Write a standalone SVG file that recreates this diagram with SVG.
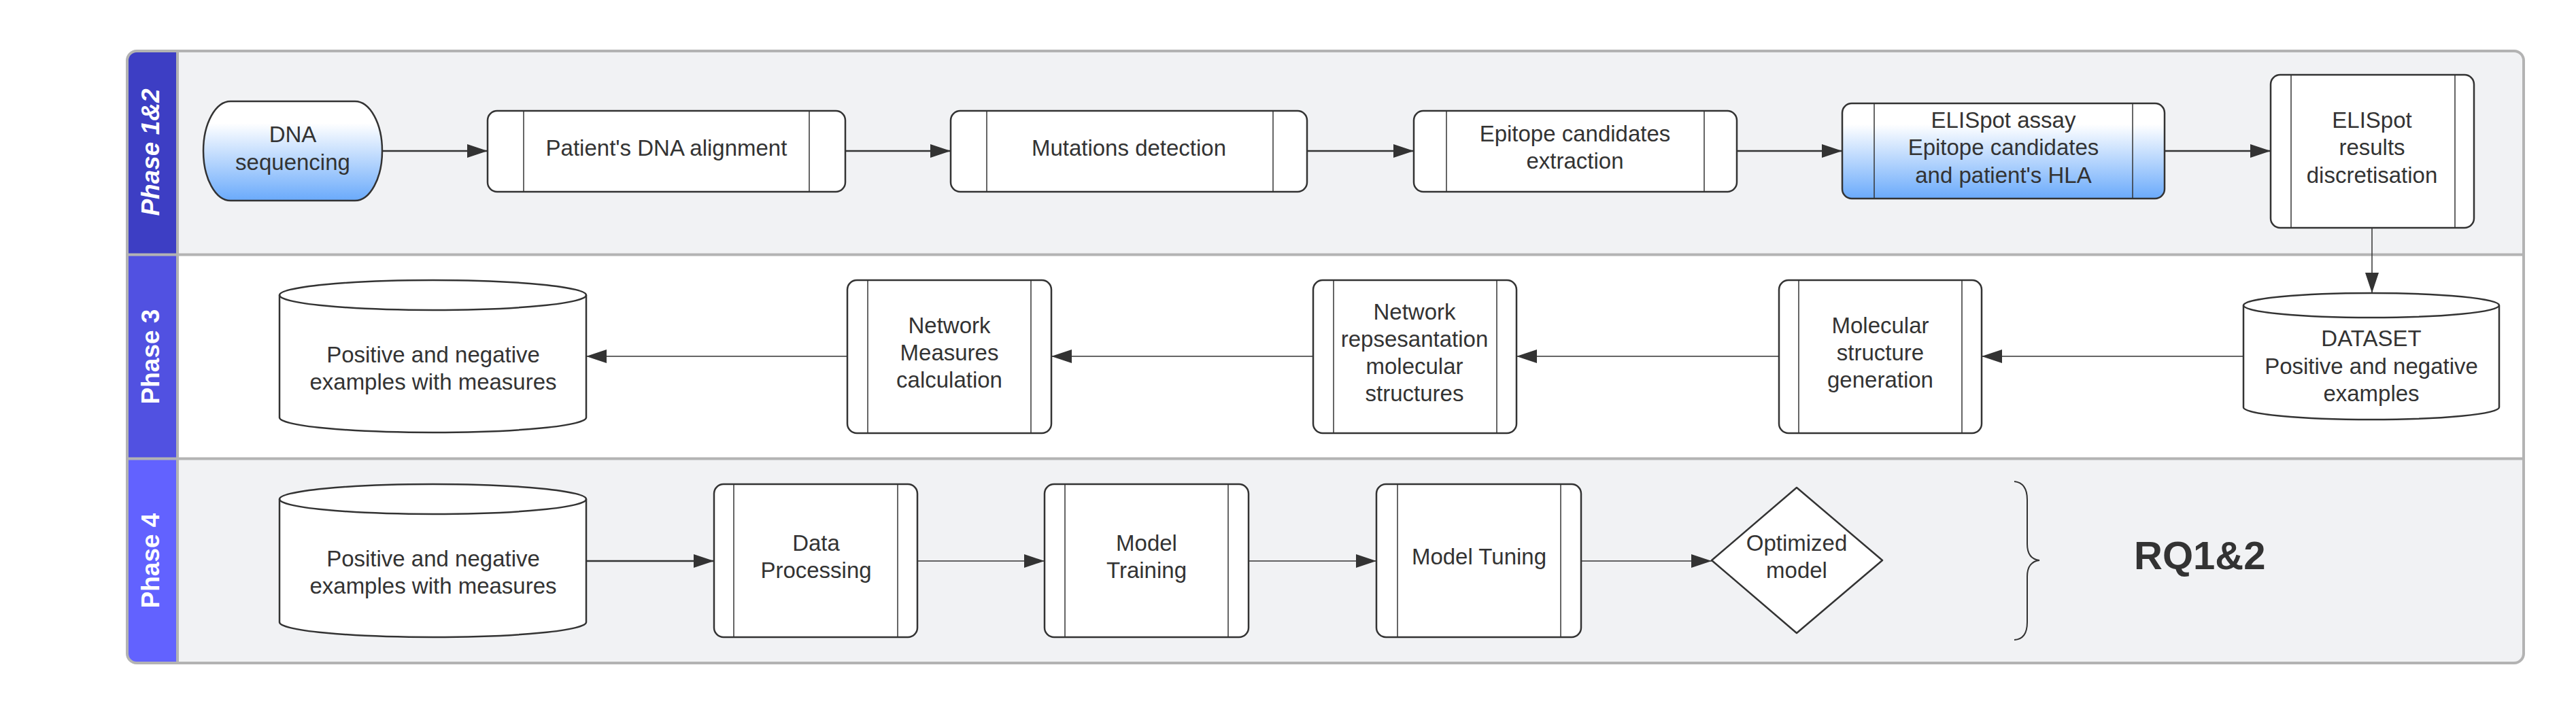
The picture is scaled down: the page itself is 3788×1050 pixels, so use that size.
<svg xmlns="http://www.w3.org/2000/svg" width="3788" height="1050" viewBox="0 0 3788 1050">
<style>
.t{font-family:"Liberation Sans",Arial,sans-serif;font-size:33px;fill:#333;text-anchor:middle}
.lane{font-family:"Liberation Sans",Arial,sans-serif;font-size:37px;font-weight:bold;fill:#fff;text-anchor:middle}
.n{fill:#fff;stroke:#333;stroke-width:2.5}
.in{stroke:#333;stroke-width:1.5;fill:none}
.c{stroke:#333;fill:none}
.thick{stroke-width:2.5}
.thin{stroke-width:1.5}
.grid{stroke:#b3b3b3;stroke-width:4;fill:none}
</style>
<defs>
<linearGradient id="blue" x1="0" y1="0" x2="0" y2="1">
<stop offset="0" stop-color="#ffffff"/>
<stop offset="0.22" stop-color="#ffffff"/>
<stop offset="1" stop-color="#6aaafb"/>
</linearGradient>
<marker id="arr" markerUnits="userSpaceOnUse" markerWidth="32" markerHeight="22" refX="30" refY="10" orient="auto">
<path d="M0,0 L30,10 L0,20 Z" fill="#333"/>
</marker>
<clipPath id="frame"><rect x="187" y="75" width="3524" height="900" rx="14"/></clipPath>
</defs>

<g id="background" clip-path="url(#frame)">
<rect x="187" y="75" width="3524" height="300" fill="#f1f2f4"/>
<rect x="187" y="375" width="3524" height="300" fill="#ffffff"/>
<rect x="187" y="675" width="3524" height="300" fill="#f1f2f4"/>
<rect x="187" y="75" width="74" height="300" fill="#3d3ec4"/>
<rect x="187" y="375" width="74" height="300" fill="#5151e1"/>
<rect x="187" y="675" width="74" height="300" fill="#6262ff"/>
</g>
<g id="frame-lines">
<rect class="grid" x="187" y="75" width="3524" height="900" rx="14"/>
<line class="grid" x1="187" y1="374.5" x2="3711" y2="374.5"/>
<line class="grid" x1="187" y1="674.5" x2="3711" y2="674.5"/>
<line class="grid" x1="261" y1="75" x2="261" y2="975"/>
</g>
<g id="lane-labels">
<text class="lane" font-style="italic" transform="translate(234,224) rotate(-90)">Phase 1&amp;2</text>
<text class="lane" transform="translate(234,524.5) rotate(-90)">Phase 3</text>
<text class="lane" transform="translate(234,824.5) rotate(-90)">Phase 4</text>
</g>

<g id="connectors">
<line class="c thick" x1="562" y1="222" x2="717" y2="222" marker-end="url(#arr)"/>
<line class="c thick" x1="1243" y1="222" x2="1398" y2="222" marker-end="url(#arr)"/>
<line class="c thick" x1="1922" y1="222" x2="2079" y2="222" marker-end="url(#arr)"/>
<line class="c thick" x1="2554" y1="222" x2="2709" y2="222" marker-end="url(#arr)"/>
<line class="c thick" x1="3183" y1="222" x2="3339" y2="222" marker-end="url(#arr)"/>
<line class="c thin" x1="3488" y1="335" x2="3488" y2="431" marker-end="url(#arr)"/>
<line class="c thin" x1="3299" y1="524" x2="2914" y2="524" marker-end="url(#arr)"/>
<line class="c thin" x1="2616" y1="524" x2="2230" y2="524" marker-end="url(#arr)"/>
<line class="c thin" x1="1931" y1="524" x2="1546" y2="524" marker-end="url(#arr)"/>
<line class="c thin" x1="1246" y1="524" x2="862" y2="524" marker-end="url(#arr)"/>
<line class="c thick" x1="862" y1="825" x2="1050" y2="825" marker-end="url(#arr)"/>
<line class="c thin" x1="1349" y1="825" x2="1536" y2="825" marker-end="url(#arr)"/>
<line class="c thin" x1="1836" y1="825" x2="2024" y2="825" marker-end="url(#arr)"/>
<line class="c thin" x1="2325" y1="825" x2="2517" y2="825" marker-end="url(#arr)"/>
</g>

<g id="dna-sequencing">
<rect x="299" y="149" width="263" height="146" rx="40" ry="73" fill="url(#blue)" stroke="#333" stroke-width="2.5"/>
<text class="t" x="430.5" y="209">DNA</text>
<text class="t" x="430.5" y="250">sequencing</text>
</g>
<g id="patients-dna-alignment">
<rect class="n" x="717" y="163" width="526" height="119" rx="14"/>
<line class="in" x1="770" y1="163" x2="770" y2="282"/>
<line class="in" x1="1190" y1="163" x2="1190" y2="282"/>
<text class="t" x="980" y="229">Patient's DNA alignment</text>
</g>
<g id="mutations-detection">
<rect class="n" x="1398" y="163" width="524" height="119" rx="14"/>
<line class="in" x1="1451" y1="163" x2="1451" y2="282"/>
<line class="in" x1="1872" y1="163" x2="1872" y2="282"/>
<text class="t" x="1660" y="229">Mutations detection</text>
</g>
<g id="epitope-extraction">
<rect class="n" x="2079" y="163" width="475" height="119" rx="14"/>
<line class="in" x1="2127" y1="163" x2="2127" y2="282"/>
<line class="in" x1="2506" y1="163" x2="2506" y2="282"/>
<text class="t" x="2316" y="208">Epitope candidates</text>
<text class="t" x="2316" y="248">extraction</text>
</g>
<g id="elispot-assay">
<rect x="2709" y="152" width="474" height="140" rx="14" fill="url(#blue)" stroke="#333" stroke-width="2.5"/>
<line class="in" x1="2756" y1="152" x2="2756" y2="292"/>
<line class="in" x1="3136" y1="152" x2="3136" y2="292"/>
<text class="t" x="2946" y="188">ELISpot assay</text>
<text class="t" x="2946" y="228">Epitope candidates</text>
<text class="t" x="2946" y="269">and patient's HLA</text>
</g>
<g id="elispot-results">
<rect class="n" x="3339" y="110" width="299" height="225" rx="14"/>
<line class="in" x1="3369" y1="110" x2="3369" y2="335"/>
<line class="in" x1="3610" y1="110" x2="3610" y2="335"/>
<text class="t" x="3488" y="188">ELISpot</text>
<text class="t" x="3488" y="228">results</text>
<text class="t" x="3488" y="269">discretisation</text>
</g>

<g id="dataset">
<path class="n" d="M3299,449 A188,18 0 0 1 3675,449 V599 A188,18 0 0 1 3299,599 Z"/>
<path class="in" style="stroke-width:2.5" d="M3299,449 A188,18 0 0 0 3675,449"/>
<text class="t" x="3487" y="509">DATASET</text>
<text class="t" x="3487" y="550">Positive and negative</text>
<text class="t" x="3487" y="590">examples</text>
</g>
<g id="molecular-structure">
<rect class="n" x="2616" y="412" width="298" height="225" rx="14"/>
<line class="in" x1="2645" y1="412" x2="2645" y2="637"/>
<line class="in" x1="2885" y1="412" x2="2885" y2="637"/>
<text class="t" x="2765" y="490">Molecular</text>
<text class="t" x="2765" y="530">structure</text>
<text class="t" x="2765" y="570">generation</text>
</g>
<g id="network-representation">
<rect class="n" x="1931" y="412" width="299" height="225" rx="14"/>
<line class="in" x1="1961" y1="412" x2="1961" y2="637"/>
<line class="in" x1="2201" y1="412" x2="2201" y2="637"/>
<text class="t" x="2080" y="470">Network</text>
<text class="t" x="2080" y="510">repsesantation</text>
<text class="t" x="2080" y="550">molecular</text>
<text class="t" x="2080" y="590">structures</text>
</g>
<g id="network-measures">
<rect class="n" x="1246" y="412" width="300" height="225" rx="14"/>
<line class="in" x1="1276" y1="412" x2="1276" y2="637"/>
<line class="in" x1="1516" y1="412" x2="1516" y2="637"/>
<text class="t" x="1396" y="490">Network</text>
<text class="t" x="1396" y="530">Measures</text>
<text class="t" x="1396" y="570">calculation</text>
</g>
<g id="examples-measures-3">
<path class="n" d="M411,434 A225.5,22 0 0 1 862,434 V614 A225.5,22 0 0 1 411,614 Z"/>
<path class="in" style="stroke-width:2.5" d="M411,434 A225.5,22 0 0 0 862,434"/>
<text class="t" x="637" y="533">Positive and negative</text>
<text class="t" x="637" y="573">examples with measures</text>
</g>

<g id="examples-measures-4">
<path class="n" d="M411,734 A225.5,22 0 0 1 862,734 V915 A225.5,22 0 0 1 411,915 Z"/>
<path class="in" style="stroke-width:2.5" d="M411,734 A225.5,22 0 0 0 862,734"/>
<text class="t" x="637" y="833">Positive and negative</text>
<text class="t" x="637" y="873">examples with measures</text>
</g>
<g id="data-processing">
<rect class="n" x="1050" y="712" width="299" height="225" rx="14"/>
<line class="in" x1="1079" y1="712" x2="1079" y2="937"/>
<line class="in" x1="1320" y1="712" x2="1320" y2="937"/>
<text class="t" x="1200" y="810">Data</text>
<text class="t" x="1200" y="850">Processing</text>
</g>
<g id="model-training">
<rect class="n" x="1536" y="712" width="300" height="225" rx="14"/>
<line class="in" x1="1566" y1="712" x2="1566" y2="937"/>
<line class="in" x1="1806" y1="712" x2="1806" y2="937"/>
<text class="t" x="1686" y="810">Model</text>
<text class="t" x="1686" y="850">Training</text>
</g>
<g id="model-tuning">
<rect class="n" x="2024" y="712" width="301" height="225" rx="14"/>
<line class="in" x1="2055" y1="712" x2="2055" y2="937"/>
<line class="in" x1="2295" y1="712" x2="2295" y2="937"/>
<text class="t" x="2175" y="830">Model Tuning</text>
</g>
<g id="optimized-model">
<polygon class="n" points="2642,717 2768,824 2642,931 2517,824" stroke-linejoin="round"/>
<text class="t" x="2642" y="810">Optimized</text>
<text class="t" x="2642" y="850">model</text>
</g>
<g id="rq">
<path d="M2962,708 Q2981,710 2981,735 L2981,800 Q2981,822 2999,824 Q2981,826 2981,848 L2981,915 Q2981,940 2962,941" fill="none" stroke="#333" stroke-width="2"/>
<text x="3138" y="837" font-family="Liberation Sans, Arial, sans-serif" font-size="58" font-weight="bold" fill="#333">RQ1&amp;2</text>
</g>
</svg>
